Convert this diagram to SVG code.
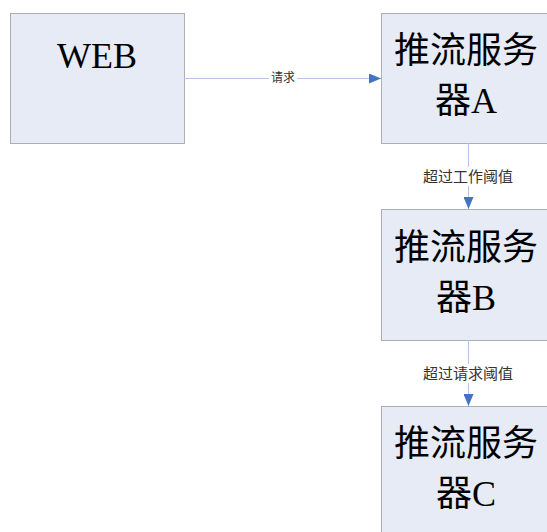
<svg xmlns="http://www.w3.org/2000/svg" width="547" height="532" viewBox="0 0 547 532">
<style>
.box{fill:#E6EBF6;stroke:#A9AEB8;stroke-width:1}
.big{font-family:"Liberation Serif","Noto Sans CJK SC",serif;font-size:36px;fill:#000;text-anchor:middle}
.lbl{font-family:"Liberation Serif","Noto Sans CJK SC",serif;font-size:15px;fill:#333;text-anchor:middle}
.conn{stroke:#B4C4E4;stroke-width:1;fill:none}
</style>
<defs>
<marker id="arr" markerWidth="12" markerHeight="10" refX="12" refY="5" orient="auto" markerUnits="userSpaceOnUse">
<path d="M0,0 L12,5 L0,10 Z" fill="#4472C4"/>
</marker>
</defs>
<rect width="547" height="532" fill="#fff"/>
<g id="web"><rect class="box" x="10.5" y="13.5" width="174" height="130"/><text class="big" x="97" y="68">WEB</text></g>
<g id="serverA"><rect class="box" x="381.5" y="13.5" width="174" height="130"/><text class="big" x="466" y="63">推流服务</text><text class="big" x="466" y="113">器A</text></g>
<g id="serverB"><rect class="box" x="381.5" y="209.5" width="174" height="131"/><text class="big" x="466" y="260">推流服务</text><text class="big" x="466" y="310">器B</text></g>
<g id="serverC"><rect class="box" x="381.5" y="406.5" width="174" height="140"/><text class="big" x="466" y="456">推流服务</text><text class="big" x="466" y="506">器C</text></g>
<g id="connectors">
<path class="conn" d="M184,78.5 H381" marker-end="url(#arr)"/>
<rect x="269" y="71" width="28" height="14" fill="#fff"/>
<text class="lbl" x="283" y="82" style="font-size:12px">请求</text>
<path class="conn" d="M468.5,143 V209" marker-end="url(#arr)"/>
<rect x="419" y="167" width="98" height="19" fill="#fff"/>
<text class="lbl" x="468" y="182">超过工作阈值</text>
<path class="conn" d="M468.5,340 V406" marker-end="url(#arr)"/>
<rect x="419" y="364" width="98" height="19" fill="#fff"/>
<text class="lbl" x="468" y="379">超过请求阈值</text>
</g>
</svg>
